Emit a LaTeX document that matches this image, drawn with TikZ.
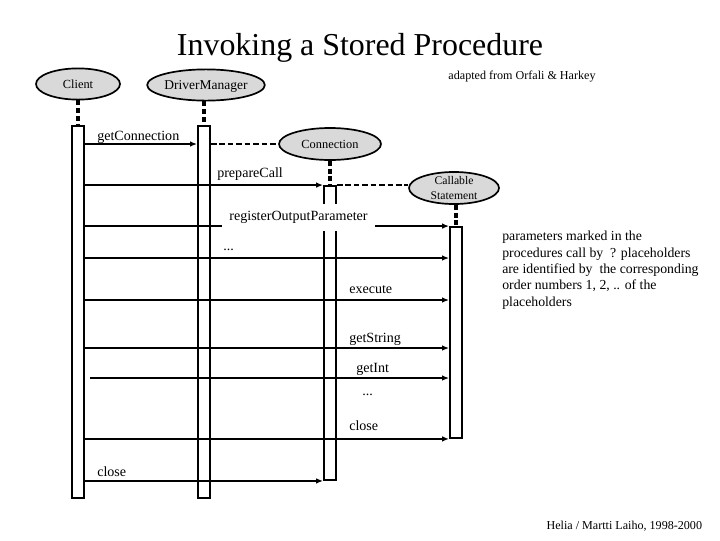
\documentclass[tikz,border=0pt]{standalone}
\usepackage{fontspec}
\setmainfont{Liberation Serif}
\usetikzlibrary{shapes.geometric,arrows.meta}
\definecolor{actorgray}{HTML}{D9D9D9}
\begin{document}
\begin{tikzpicture}[x=0.025cm,y=-0.025cm]
	\tikzset{actor/.style={ellipse, draw=black, line width=1.2pt, fill=actorgray, inner sep=0pt, font=\fontsize{8.8}{10}\selectfont},
		bar/.style={rectangle, draw=black, line width=1.3pt, fill=white, minimum width=0.3cm, inner sep=0pt},
		life/.style={line width=2.5pt, dash pattern=on 3.5pt off 2pt},
		link/.style={line width=1pt, dash pattern=on 4pt off 2pt},
		msg/.style={line width=1.1pt, -{Latex[length=5pt,width=4pt]}},
		lbl/.style={anchor=base west, inner sep=0pt, font=\fontsize{10}{12}\selectfont}};

	\useasboundingbox (0,0) rectangle (720,540);

	\node[anchor=base, font=\fontsize{22.7}{26}\selectfont] (title) at (360,55) {Invoking a Stored Procedure};
	\node[anchor=base, font=\fontsize{8.6}{10}\selectfont] (source) at (522,79) {adapted from Orfali \& Harkey};

	\node[actor, minimum width=2.1cm, minimum height=0.78cm, text depth=0pt] (client) at (78,84) {Client};
	\node[actor, minimum width=2.6cm, minimum height=0.78cm, text depth=0pt, font=\fontsize{9.6}{11}\selectfont] (dm) at (206,85) {DriverManager};
	\node[actor, minimum width=2.55cm, minimum height=0.8cm] (conn) at (330,144) {Connection};
	\node[actor, minimum width=2.25cm, minimum height=0.8cm, inner ysep=-3pt, align=center, font=\fontsize{8.3}{10.6}\selectfont] (cs) at (454,188) {Callable\\Statement};

	\node[bar, minimum height=9.3cm] (cbar) at (78,312) {};
	\node[bar, minimum height=9.3cm] (dbar) at (204,312) {};
	\node[bar, minimum height=7.35cm] (nbar) at (330,333) {};
	\node[bar, minimum height=5.275cm] (sbar) at (456,332.5) {};

	\draw[life] (cbar.north |- client.south) -- (cbar.north);
	\draw[life] (dbar.north |- dm.south) -- (dbar.north);
	\draw[life] (nbar.north |- conn.south) -- (nbar.north);
	\draw[life] (sbar.north |- cs.south) -- (sbar.north);

	\draw[msg] (cbar.east |- conn.west) -- (dbar.west |- conn.west);
	\node[lbl] (getconn) at (97,140) {getConnection};
	\draw[link] (dbar.east |- conn.west) -- (conn.west);

	\draw[msg] (cbar.east |- nbar.north) -- (nbar.north west);
	\node[lbl] (prepare) at (217,177) {prepareCall};
	\draw[link] (nbar.north east) -- (nbar.north east -| cs.west);

	\draw[msg] (cbar.east |- sbar.north) -- (sbar.north west);
	\node[fill=white, inner sep=0pt, minimum width=3.825cm, minimum height=0.675cm, font=\fontsize{10}{12}\selectfont] (regout) at (298.5,217) {registerOutputParameter};

	\draw[msg] (cbar.east |- 0,258) -- (sbar.west |- 0,258);
	\node[lbl] (dotsa) at (223,250) {...};

	\draw[msg] (cbar.east |- 0,300) -- (sbar.west |- 0,300);
	\node[lbl] (execute) at (349,293) {execute};

	\draw[msg] (cbar.east |- 0,348) -- (sbar.west |- 0,348);
	\node[lbl] (getstring) at (349,342) {getString};

	\coordinate (gistart) at (90,378);
	\draw[msg] (gistart) -- (sbar.west |- gistart);
	\node[lbl] (getint) at (356,372) {getInt};
	\node[lbl] (dotsb) at (362,395) {...};

	\draw[msg] (cbar.east |- sbar.south) -- (sbar.south west);
	\node[lbl] (closea) at (349,430) {close};

	\draw[msg] (cbar.east |- nbar.south) -- (nbar.south west);
	\node[lbl] (closeb) at (97,476) {close};

	\node[anchor=north west, align=left, inner sep=0pt, font=\fontsize{9.8}{11.6}\selectfont] (note) at (502,231) {parameters marked in the\\procedures call by~ ? placeholders\\are identified by~ the corresponding\\order numbers 1, 2, .. of the\\placeholders};

	\node[anchor=base east, font=\fontsize{8.6}{10}\selectfont] (credit) at (707,529) {Helia / Martti Laiho, 1998-2000};
\end{tikzpicture}
\end{document}
